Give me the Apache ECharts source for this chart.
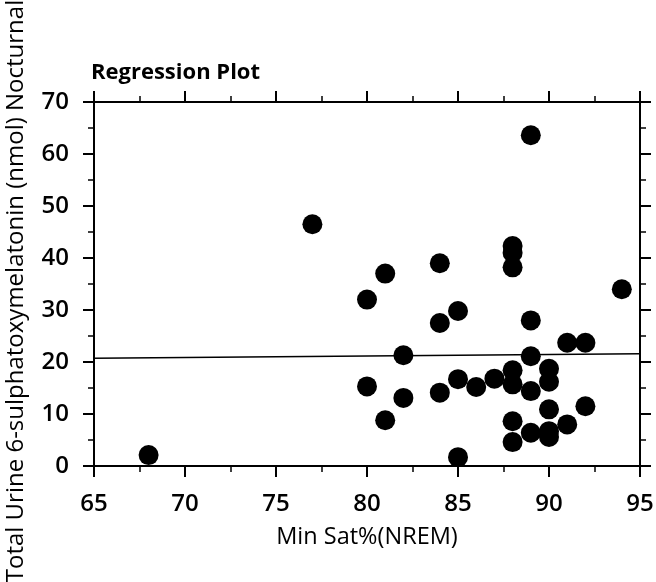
<!DOCTYPE html>
<html>
<head>
<meta charset="utf-8">
<script src="https://cdn.jsdelivr.net/npm/echarts@6/dist/echarts.min.js"></script>
<style>html,body{margin:0;padding:0;background:#fff}#c{width:656px;height:582px}</style>
</head>
<body>
<div id="c"></div>
<script>
const minSat = [68,77,89,88,88,88,84,81,80,94,85,84,89,91,92,82,89,90,90,88,88,80,85,86,87,84,82,89,81,90,92,91,88,89,90,90,88,85];
const melatonin = [2.1,46.5,63.6,42.3,41.0,38.2,39.0,37.0,32.0,34.0,29.8,27.5,28.0,23.7,23.7,21.3,21.1,18.7,16.2,18.4,15.7,15.3,16.7,15.2,16.8,14.1,13.1,14.4,8.8,10.9,11.5,8.0,8.6,6.4,6.7,5.6,4.6,1.7];
const regX = [65,95];
const regY = [20.7,21.6];
const xTicks = {min:65,max:95,interval:5};
const yTicks = {min:0,max:70,interval:10};

const points = minSat.map((x,i)=>[x,melatonin[i]]);
const regLine = regX.map((x,i)=>[x,regY[i]]);
const FONT = '"Open Sans"';
const axisLine = {show:true, onZero:false, lineStyle:{color:'#000', width:2}};
const majTick = {show:true, inside:false, length:11, lineStyle:{color:'#000', width:2}};
const minTick = {show:true, splitNumber:2, length:6, lineStyle:{color:'#000', width:1.5}};

const chart = echarts.init(document.getElementById('c'));
chart.setOption({
  animation:false,
  backgroundColor:'#fff',
  title:{text:'Regression Plot', left:86, top:57, textStyle:{fontFamily:FONT, fontSize:22, fontWeight:'bold', color:'#000'}},
  grid:{left:94, top:102, width:546, height:364, containLabel:false, outerBoundsMode:'none'},
  xAxis:[
    {type:'value', position:'bottom', min:xTicks.min, max:xTicks.max, interval:xTicks.interval,
     axisLine, axisTick:majTick, minorTick:minTick, splitLine:{show:false},
     axisLabel:{fontFamily:FONT, fontSize:24, fontWeight:600, color:'#000', margin:26},
     name:'Min Sat%(NREM)', nameLocation:'middle', nameGap:59,
     nameTextStyle:{fontFamily:FONT, fontSize:23.5, fontWeight:500, color:'#000'}},
    {type:'value', position:'top', min:xTicks.min, max:xTicks.max, interval:xTicks.interval,
     axisLine, axisTick:majTick, minorTick:minTick, splitLine:{show:false}, axisLabel:{show:false}}
  ],
  yAxis:[
    {type:'value', position:'left', min:yTicks.min, max:yTicks.max, interval:yTicks.interval,
     axisLine, axisTick:majTick, minorTick:minTick, splitLine:{show:false},
     axisLabel:{fontFamily:FONT, fontSize:24, fontWeight:600, color:'#000', margin:25},
     name:'Total Urine 6-sulphatoxymelatonin (nmol) Nocturnal', nameLocation:'middle', nameGap:66,
     nameTextStyle:{fontFamily:FONT, fontSize:24, fontWeight:500, color:'#000', padding:[0,14,0,0]}},
    {type:'value', position:'right', min:yTicks.min, max:yTicks.max, interval:yTicks.interval,
     axisLine, axisTick:majTick, minorTick:minTick, splitLine:{show:false}, axisLabel:{show:false}}
  ],
  series:[
    {type:'line', data:regLine, xAxisIndex:0, yAxisIndex:0, showSymbol:false, symbol:'none',
     lineStyle:{color:'#000', width:1.5}, silent:true},
    {type:'scatter', data:points, xAxisIndex:0, yAxisIndex:0, symbol:'circle', symbolSize:20,
     itemStyle:{color:'#000', opacity:1}}
  ]
});
</script>
</body>
</html>
